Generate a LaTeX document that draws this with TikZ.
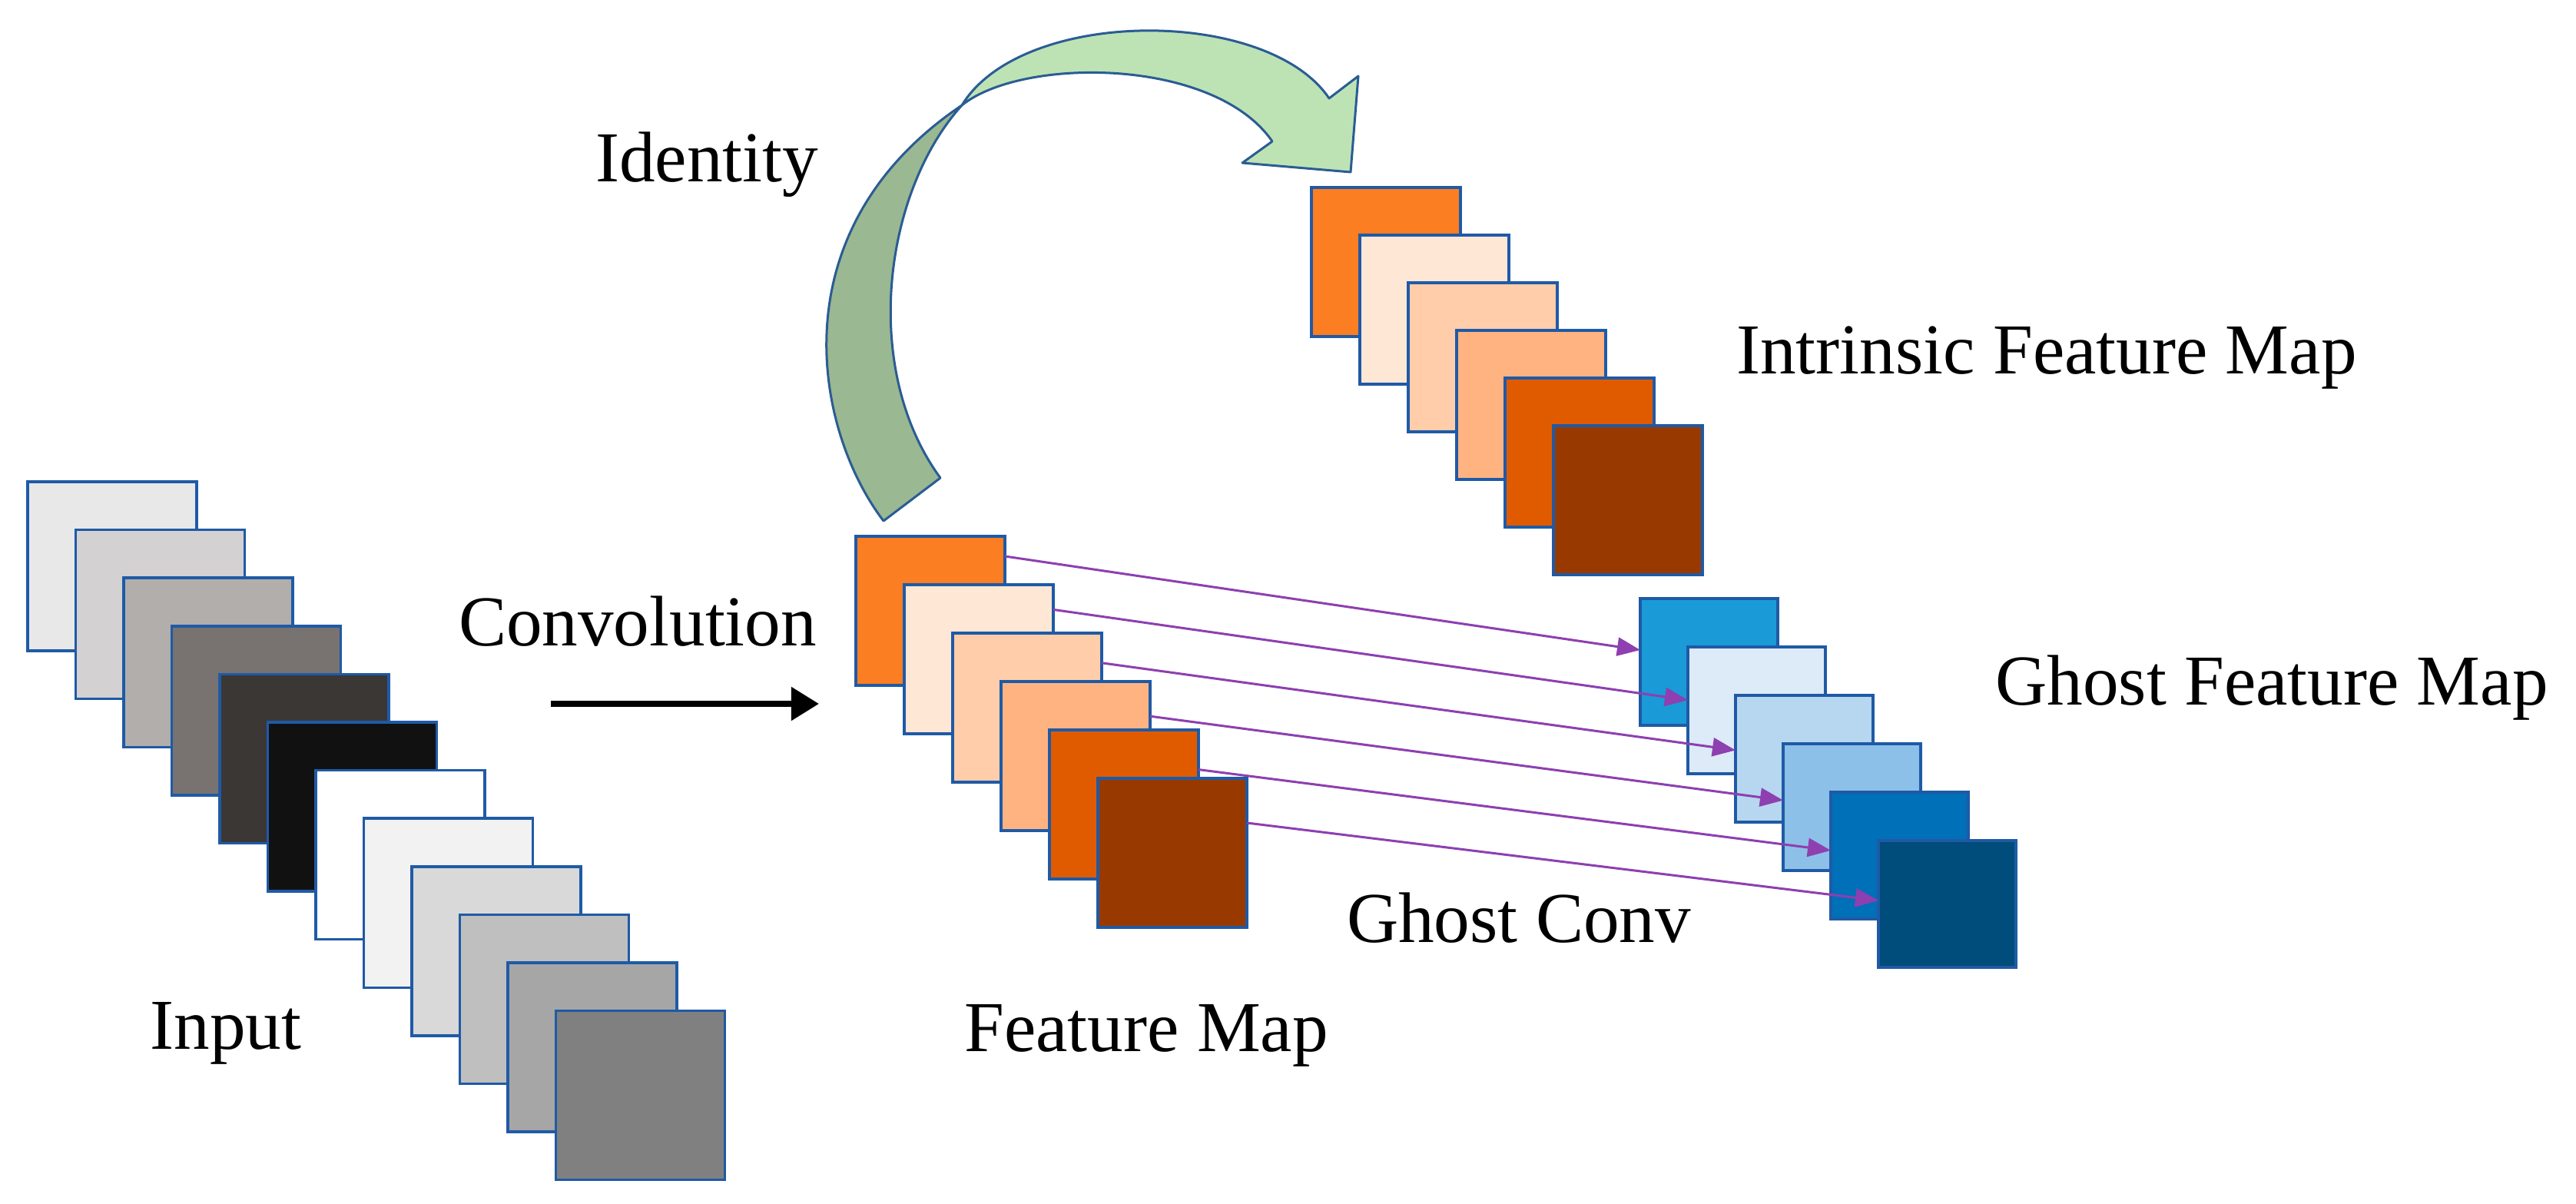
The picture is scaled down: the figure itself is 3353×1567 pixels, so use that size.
\documentclass[tikz,border=0pt]{standalone}
\usepackage{fontspec}
\setmainfont{Liberation Serif}
\usetikzlibrary{arrows.meta,calc}
\definecolor{edge}{HTML}{1F5AA6}
\definecolor{gedge}{HTML}{2B5C94}
\definecolor{glight}{HTML}{BDE3B5}
\definecolor{gdark}{HTML}{9AB891}
\definecolor{purp}{HTML}{8E3FB0}
\begin{document}
\begin{tikzpicture}[x=0.01cm,y=-0.01cm,
  sq/.style={draw=edge,line width=1pt,inner sep=0,outer sep=0,anchor=north west},
  inp/.style={sq,minimum width=2.2cm,minimum height=2.2cm},
  fm/.style={sq,minimum width=1.94cm,minimum height=1.94cm},
  gm/.style={sq,minimum width=1.79cm,minimum height=1.65cm},
  lbl/.style={font=\fontsize{26.5}{30}\selectfont,inner sep=0},
  ga/.style={purp,line width=0.03cm,-{Triangle[length=0.3cm,width=0.24cm]}}]
\useasboundingbox (0,0) rectangle (3353,1567);
% input stack
\foreach \c [count=\i from 0] in {E8E8E8,D3D1D1,B1AEAC,787371,3B3735,111111,FFFFFF,F2F2F2,D9D9D9,BFBFBF,A6A6A6,808080}{
  \definecolor{tmp}{HTML}{\c}
  \node[inp,fill=tmp] (in\i) at ({36+62.5*\i},{627+62.6*\i}) {};
}
% feature map
\foreach \c [count=\i] in {FB7E22,FFE7D6,FFCDAA,FFB381,E05B00,983A00}{
  \definecolor{tmp}{HTML}{\c}
  \node[fm,fill=tmp] (f\i) at ({1114+63*(\i-1)},{698+63*(\i-1)}) {};
}
% intrinsic
\foreach \c [count=\i] in {FB7E22,FFE7D6,FFCDAA,FFB381,E05B00,983A00}{
  \definecolor{tmp}{HTML}{\c}
  \node[fm,fill=tmp] (n\i) at ({1707+63*(\i-1)},{244+62*(\i-1)}) {};
}
% ghost
\foreach \c [count=\i] in {1A9AD6,DCEBF7,B6D7EF,8DC0E8,0070B8,004C7A}{
  \definecolor{tmp}{HTML}{\c}
  \node[gm,fill=tmp] (g\i) at ({2135+62*(\i-1)},{779+63*(\i-1)}) {};
}
% ghost conv arrows
\foreach \i in {1,...,6}{
  \pgfmathsetmacro{\so}{26+6.4*(\i-1)}
  \pgfmathsetmacro{\eo}{67+2.2*(\i-1)}
  \draw[ga] ($(f\i.north east)+(0,\so)$) -- ($(g\i.north west)+(0,\eo)$);
}
% convolution arrow
\coordinate (c1) at (717,916);
\coordinate (c2) at (1066,916);
\draw[line width=0.08cm,-{Triangle[length=0.36cm,width=0.42cm]}] (c1) -- (c2);
% identity arrow
\filldraw[fill=glight,draw=gedge,line width=0.03cm,line join=round]
  (1252,137) .. controls (1330,9) and (1650,9) .. (1730,128)
  -- (1768,99) -- (1758,224) -- (1617,212) -- (1656,184)
  .. controls (1580,74) and (1330,74) .. (1252,137) -- cycle;
\filldraw[fill=gdark,draw=gedge,line width=0.03cm,line join=round]
  (1150,678) .. controls (1060,560) and (1010,300) .. (1252,137)
  .. controls (1150,250) and (1120,480) .. (1224,622) -- cycle;
% labels
\node[lbl] (tconv) at (830,809) {Convolution};
\node[lbl] (tid) at (920,214) {Identity};
\node[lbl] (tint) at (2664,466) {Intrinsic Feature Map};
\node[lbl] (tgfm) at (2957,895) {Ghost Feature Map};
\node[lbl] (tgc) at (1977,1195) {Ghost Conv};
\node[lbl] (tfm) at (1492,1348) {Feature Map};
\node[lbl] (tin) at (294,1345) {Input};
\end{tikzpicture}
\end{document}
